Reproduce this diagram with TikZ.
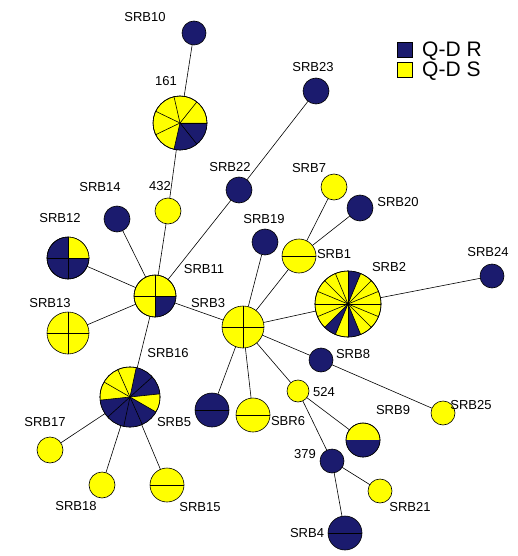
\documentclass[tikz,border=0pt]{standalone}
\usepackage{fontspec}
\setmainfont{Liberation Sans}
\usetikzlibrary{shapes,arrows}
\definecolor{qdnavy}{RGB}{27,27,110}
\definecolor{qdyellow}{RGB}{255,255,0}
\tikzstyle{hap} = [circle, draw, line width=0.6pt, inner sep=0pt, outer sep=0pt]
\tikzstyle{qdr} = [fill=qdnavy]
\tikzstyle{qds} = [fill=qdyellow]
\tikzstyle{s12} = [minimum size=24pt]
\tikzstyle{s13} = [minimum size=26pt]
\tikzstyle{s17} = [minimum size=34pt]
\tikzstyle{s21} = [minimum size=42pt]
\tikzstyle{line} = [draw, line width=0.6pt]
\tikzstyle{spoke} = [draw, line width=0.6pt]
\tikzstyle{lbl} = [font=\fontsize{13}{13}\selectfont, inner sep=0pt]
\tikzstyle{key} = [rectangle, draw, line width=0.6pt, minimum size=15pt, inner sep=0pt]
\tikzstyle{keytext} = [font=\fontsize{21}{21}\selectfont, inner sep=0pt, anchor=west]
\newcommand{\rim}[2]{\draw [line width=0.6pt] (#1.center) circle [radius=#2];}

\begin{document}
\begin{tikzpicture}[x=1pt, y=-1pt]
    \useasboundingbox (0,0) rectangle (517,556);

    % haplotypes
    \node [hap, qdr, s12] (srb10) at (194,33) {};
    \node [hap, qds, minimum size=54pt] (n161) at (180,123) {};
    \node [hap, qdr, s13] (srb23) at (316,91) {};
    \node [hap, qdr, s13] (srb22) at (239,190) {};
    \node [hap, qds, s13] (n432) at (168,211) {};
    \node [hap, qdr, s13] (srb14) at (117,219) {};
    \node [hap, qds, s13] (srb7) at (334,187) {};
    \node [hap, qdr, s13] (srb20) at (360,208) {};
    \node [hap, qdr, s13] (srb19) at (265,242) {};
    \node [hap, qdr, s21] (srb12) at (68,258) {};
    \node [hap, qds, s17] (srb1) at (299,256) {};
    \node [hap, qdr, s12] (srb24) at (492,276) {};
    \node [hap, qds, minimum size=66pt] (srb2) at (348,304) {};
    \node [hap, qds, s21] (srb11) at (155,296) {};
    \node [hap, qds, s21] (srb13) at (68,333) {};
    \node [hap, qds, s21] (srb3) at (243,327) {};
    \node [hap, qds, minimum size=60pt] (srb16) at (130,397) {};
    \node [hap, qdr, s12] (srb8) at (321,360) {};
    \node [hap, qds, minimum size=22pt] (n524) at (298,391) {};
    \node [hap, qdr, s17] (srb5) at (212,410) {};
    \node [hap, qds, s17] (sbr6) at (253,415) {};
    \node [hap, qds, s12] (srb25) at (443,413) {};
    \node [hap, qds, s17] (srb9) at (363,440) {};
    \node [hap, qds, s13] (srb17) at (50,450) {};
    \node [hap, qdr, s12] (n379) at (332,461) {};
    \node [hap, qds, s13] (srb18) at (102,485) {};
    \node [hap, qds, s17] (srb15) at (167,485) {};
    \node [hap, qds, s12] (srb21) at (380,491) {};
    \node [hap, qdr, s17] (srb4) at (345,533) {};

    % pie slices
    \fill [qdnavy] (n161.center) -- ++(257.14:27pt) arc [start angle=257.14, end angle=360, radius=27pt] -- cycle;
    \foreach \k in {0,...,6}
        \path [spoke] (n161.center) -- ++({\k*360/7}:27pt);
    \rim{n161}{27pt}

    \foreach \a in {67.5,225,270}
        \fill [qdnavy] (srb2.center) -- ++(\a:33pt) arc [start angle=\a, end angle=\a+22.5, radius=33pt] -- cycle;
    \foreach \a in {0,22.5,...,337.5}
        \path [spoke] (srb2.center) -- ++(\a:33pt);
    \rim{srb2}{33pt}

    \fill [qdnavy] (srb16.center) -- ++(6:30pt) arc [start angle=6, end angle=78, radius=30pt] -- cycle;
    \fill [qdnavy] (srb16.center) -- ++(186:30pt) arc [start angle=186, end angle=330, radius=30pt] -- cycle;
    \foreach \a in {-30,6,...,294}
        \path [spoke] (srb16.center) -- ++(\a:30pt);
    \rim{srb16}{30pt}

    \fill [qdnavy] (srb11.center) -- ++(-90:21pt) arc [start angle=-90, end angle=0, radius=21pt] -- cycle;
    \fill [qdyellow] (srb12.center) -- ++(0:21pt) arc [start angle=0, end angle=90, radius=21pt] -- cycle;
    \fill [qdnavy] (srb9.center) -- ++(0:17pt) arc [start angle=0, end angle=-180, radius=17pt] -- cycle;
    \foreach \n in {srb11,srb12,srb13,srb3}
        \path [spoke] (\n.north) -- (\n.south) (\n.west) -- (\n.east);
    \foreach \n in {srb1,srb5,sbr6,srb15,srb4}
        \path [spoke] (\n.west) -- (\n.east);
    \rim{srb11}{21pt}
    \rim{srb12}{21pt}
    \rim{srb9}{17pt}

    % connectors
    \path [line] (srb10) -- (n161);
    \path [line] (n161) -- (n432);
    \path [line] (n432) -- (srb11);
    \path [line] (srb23) -- (srb22);
    \path [line] (srb22) -- (srb11);
    \path [line] (srb14) -- (srb11);
    \path [line] (srb12) -- (srb11);
    \path [line] (srb13) -- (srb11);
    \path [line] (srb11) -- (srb16);
    \path [line] (srb11) -- (srb3);
    \path [line] (srb16) -- (srb17);
    \path [line] (srb16) -- (srb18);
    \path [line] (srb16) -- (srb15);
    \path [line] (srb3) -- (srb19);
    \path [line] (srb3) -- (srb1);
    \path [line] (srb1) -- (srb7);
    \path [line] (srb1) -- (srb20);
    \path [line] (srb3) -- (srb2);
    \path [line] (srb2) -- (srb24);
    \path [line] (srb3) -- (srb8);
    \path [line] (srb8) -- (srb25);
    \path [line] (srb3) -- (n524);
    \path [line] (srb3) -- (srb5);
    \path [line] (srb3) -- (sbr6);
    \path [line] (n524) -- (srb9);
    \path [line] (n524) -- (n379);
    \path [line] (n379) -- (srb4);
    \path [line] (n379) -- (srb21);

    % labels
    \node [lbl] (t-srb10) at (145,17) {SRB10};
    \node [lbl] (t-161) at (166,81) {161};
    \node [lbl] (t-srb23) at (313,67) {SRB23};
    \node [lbl] (t-srb22) at (230,167) {SRB22};
    \node [lbl] (t-srb14) at (100,187) {SRB14};
    \node [lbl] (t-432) at (160,186) {432};
    \node [lbl] (t-srb7) at (309,168) {SRB7};
    \node [lbl] (t-srb20) at (398,202) {SRB20};
    \node [lbl] (t-srb19) at (264,219) {SRB19};
    \node [lbl] (t-srb12) at (60,218) {SRB12};
    \node [lbl] (t-srb1) at (334,254) {SRB1};
    \node [lbl] (t-srb24) at (488,252) {SRB24};
    \node [lbl] (t-srb2) at (389,267) {SRB2};
    \node [lbl] (t-srb11) at (204,269) {SRB11};
    \node [lbl] (t-srb13) at (50,303) {SRB13};
    \node [lbl] (t-srb3) at (208,303) {SRB3};
    \node [lbl] (t-srb16) at (168,353) {SRB16};
    \node [lbl] (t-srb8) at (353,354) {SRB8};
    \node [lbl] (t-524) at (324,392) {524};
    \node [lbl] (t-srb5) at (174,422) {SRB5};
    \node [lbl] (t-sbr6) at (288,421) {SBR6};
    \node [lbl] (t-srb25) at (471,405) {SRB25};
    \node [lbl] (t-srb9) at (393,410) {SRB9};
    \node [lbl] (t-srb17) at (45,422) {SRB17};
    \node [lbl] (t-379) at (305,454) {379};
    \node [lbl] (t-srb18) at (76,506) {SRB18};
    \node [lbl] (t-srb15) at (200,507) {SRB15};
    \node [lbl] (t-srb21) at (410,507) {SRB21};
    \node [lbl] (t-srb4) at (307,533) {SRB4};

    % legend
    \node [key, qdr] (key-r) at (405,50) {};
    \node [key, qds] (key-s) at (405,70) {};
    \node [keytext] (kt-r) at (422,51) {Q-D R};
    \node [keytext] (kt-s) at (422,71) {Q-D S};

\end{tikzpicture}
\end{document}
